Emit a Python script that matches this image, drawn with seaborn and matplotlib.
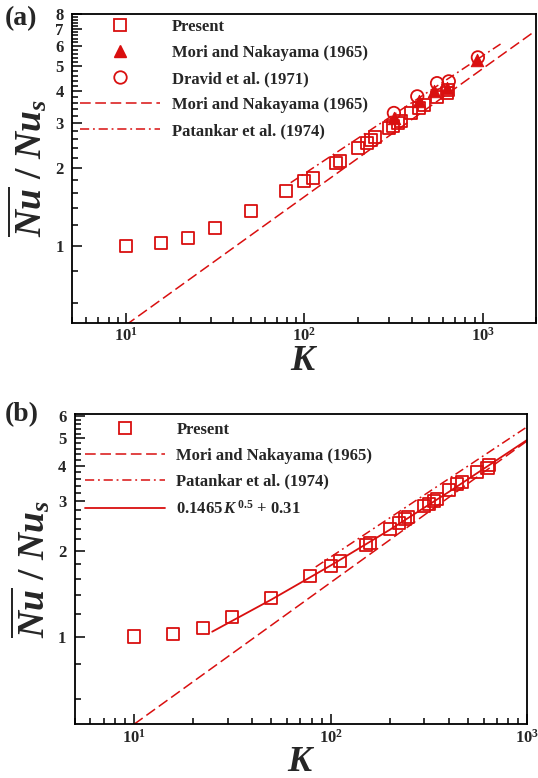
import matplotlib
matplotlib.use('Agg')
import matplotlib.pyplot as plt
from matplotlib.lines import Line2D
from matplotlib.ticker import FixedLocator, FixedFormatter, NullFormatter, LogLocator, LogFormatterSciNotation
import seaborn as sns

sns.set_style('ticks')
plt.rcParams['font.family'] = ['Liberation Serif', 'DejaVu Serif']
plt.rcParams['font.weight'] = 'bold'
plt.rcParams['mathtext.fontset'] = 'custom'
plt.rcParams['mathtext.rm'] = 'Liberation Serif:bold'
plt.rcParams['mathtext.it'] = 'Liberation Serif:bold:italic'
plt.rcParams['mathtext.bf'] = 'Liberation Serif:bold'

RED = '#d90f0f'

# present results (same in both panels)
k_present = [10, 15.8, 22.4, 31.6, 50, 79, 100, 112, 151, 158, 200, 224, 238, 248,
             300, 316, 335, 348, 398, 440, 468, 556, 628, 640]
nu_present = [1.0, 1.02, 1.07, 1.17, 1.37, 1.63, 1.78, 1.84, 2.10, 2.13, 2.40, 2.51, 2.59, 2.65,
              2.88, 2.93, 3.00, 3.05, 3.30, 3.44, 3.52, 3.80, 3.93, 4.03]

# Mori and Nakayama (1965) experiments
k_mori_exp = [318, 440, 535, 631, 929]
nu_mori_exp = [3.14, 3.65, 4.0, 4.12, 5.31]

# Dravid et al. (1971)
k_dravid = [318, 430, 555, 646, 940]
nu_dravid = [3.29, 3.82, 4.30, 4.37, 5.42]

# Mori and Nakayama (1965) correlation
k_mori_line = [10, 100, 1000, 1930]
nu_mori_line = [0.49, 1.55, 4.9, 6.8]

# Patankar et al. (1974)
k_patankar = [84, 1300]
nu_patankar = [1.76, 6.2]

# fit 0.1465 K^0.5 + 0.31
k_fit = [25, 50, 100, 200, 400, 1000]
nu_fit = [1.04, 1.35, 1.78, 2.38, 3.24, 4.94]

fig = plt.figure(figsize=(5.38, 7.78), dpi=100)
ax_a = fig.add_axes([0.134, 0.585, 0.863, 0.397])
ax_b = fig.add_axes([0.139, 0.069, 0.841, 0.399])

dash = (0, (7, 3))
dashdot = (0, (6, 2.5, 1.2, 2.5))

def plot_present(ax):
    sns.scatterplot(x=k_present, y=nu_present, ax=ax, marker='s', s=75,
                    facecolor='none', edgecolor=RED, linewidth=1.3, zorder=5)

# ---- panel (a)
plot_present(ax_a)
sns.scatterplot(x=k_mori_exp, y=nu_mori_exp, ax=ax_a, marker='^', s=80,
                color=RED, edgecolor=RED, zorder=6)
sns.scatterplot(x=k_dravid, y=nu_dravid, ax=ax_a, marker='o', s=80,
                facecolor='none', edgecolor=RED, linewidth=1.3, zorder=6)
sns.lineplot(x=k_mori_line, y=nu_mori_line, ax=ax_a, color=RED, lw=1.1, linestyle=dash)
sns.lineplot(x=k_patankar, y=nu_patankar, ax=ax_a, color=RED, lw=1.1, linestyle=dashdot)

# ---- panel (b)
plot_present(ax_b)
sns.lineplot(x=k_mori_line, y=nu_mori_line, ax=ax_b, color=RED, lw=1.1, linestyle=dash)
sns.lineplot(x=k_patankar, y=nu_patankar, ax=ax_b, color=RED, lw=1.1, linestyle=dashdot)
sns.lineplot(x=k_fit, y=nu_fit, ax=ax_b, color=RED, lw=1.3)

sq = dict(marker='s', markersize=8.5, markerfacecolor='none', markeredgecolor=RED,
          markeredgewidth=1.3, linestyle='none')
h_present = Line2D([], [], **sq)
h_mori_exp = Line2D([], [], marker='^', markersize=9, color=RED, linestyle='none')
h_dravid = Line2D([], [], marker='o', markersize=9, markerfacecolor='none',
                  markeredgecolor=RED, markeredgewidth=1.3, linestyle='none')
h_mori = Line2D([], [], color=RED, lw=1.1, linestyle=dash)
h_pat = Line2D([], [], color=RED, lw=1.1, linestyle=dashdot)
h_fit = Line2D([], [], color=RED, lw=1.3)

leg_kw = dict(frameon=False, fontsize=12, handlelength=4.8, handletextpad=0.7,
              labelspacing=0.6, borderpad=0, borderaxespad=0, loc='upper left')
ax_a.legend([h_present, h_mori_exp, h_dravid, h_mori, h_pat],
            ['Present', 'Mori and Nakayama (1965)', 'Dravid et al. (1971)',
             'Mori and Nakayama (1965)', 'Patankar et al. (1974)'],
            bbox_to_anchor=(0.017, 0.983), **leg_kw)
ax_b.legend([h_present, h_mori, h_pat, h_fit],
            ['Present', 'Mori and Nakayama (1965)', 'Patankar et al. (1974)',
             r'0.1465$\,K^{\,0.5}$ + 0.31'],
            bbox_to_anchor=(0.022, 0.975), **leg_kw)

minor_y = [0.6, 0.8, 1.2, 1.4, 1.6, 1.8, 2.2, 2.4, 2.6, 2.8, 3.2, 3.4, 3.6, 3.8,
           4.2, 4.4, 4.6, 4.8, 5.2, 5.4, 5.6, 5.8, 6.2, 6.4, 6.6, 6.8, 7.2, 7.4, 7.6, 7.8]

def style_axes(ax, xlim, ylim, yticks):
    ax.set_xscale('log')
    ax.set_yscale('log')
    ax.set_xlim(*xlim)
    ax.set_ylim(*ylim)
    ax.yaxis.set_major_locator(FixedLocator(yticks))
    ax.yaxis.set_major_formatter(FixedFormatter([str(t) for t in yticks]))
    ax.yaxis.set_minor_locator(FixedLocator(minor_y))
    ax.yaxis.set_minor_formatter(NullFormatter())
    ax.xaxis.set_major_locator(LogLocator(base=10))
    ax.xaxis.set_major_formatter(LogFormatterSciNotation())
    ax.xaxis.set_minor_locator(LogLocator(base=10, subs=range(2, 10)))
    ax.xaxis.set_minor_formatter(NullFormatter())
    ax.tick_params(which='both', direction='in', top=False, right=False, labelsize=12,
                   width=1.1, color='black')
    ax.tick_params(which='major', length=7)
    ax.tick_params(which='minor', length=4)
    ax.tick_params(axis='y', which='major', pad=6)
    ax.tick_params(axis='x', which='major', pad=3)
    for s in ax.spines.values():
        s.set_linewidth(1.3)
        s.set_color('black')
    ax.set_xlabel(r'$K$', fontsize=26, labelpad=0)
    ax.set_ylabel(r'$\overline{Nu}\ /\ Nu_s$', fontsize=27, labelpad=4)

style_axes(ax_a, (5, 2000), (0.5, 8), [1, 2, 3, 4, 5, 6, 7, 8])
style_axes(ax_b, (5, 1000), (0.49, 6.1), [1, 2, 3, 4, 5, 6])

fig.text(0.008, 0.992, '(a)', fontsize=20, fontweight='bold', va='top', ha='left')
fig.text(0.008, 0.483, '(b)', fontsize=20, fontweight='bold', va='top', ha='left')

fig.savefig('out.png', dpi=100)
